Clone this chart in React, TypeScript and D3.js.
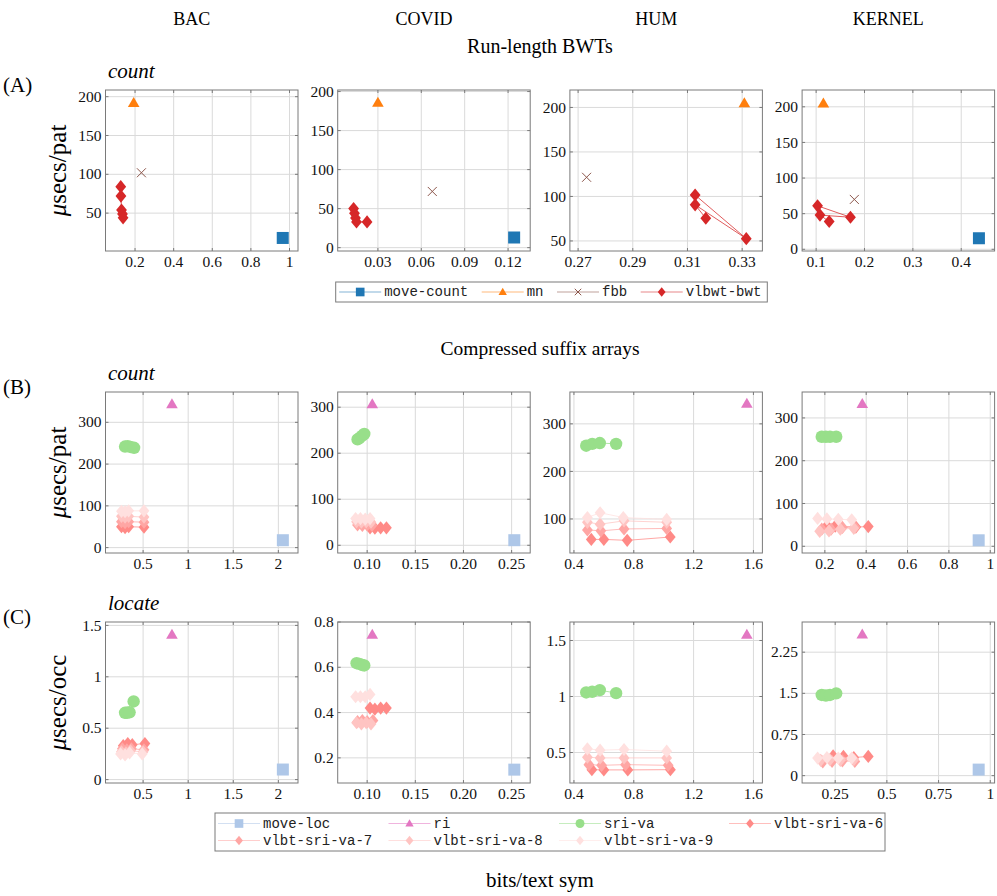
import React from 'react';
import * as d3 from 'd3';

type Pt = [number, number];

const datasets = ['BAC', 'COVID', 'HUM', 'KERNEL'];

// (A) run-length BWTs, count: [bits/text sym, usecs/pat]
const bacMoveCount: Pt[] = [[0.965, 18]];
const bacMn: Pt[] = [[0.193, 192]];
const bacFbb: Pt[] = [[0.233, 102]];
const bacVlbwt: Pt[] = [[0.126, 84], [0.127, 72], [0.13, 54], [0.135, 49], [0.138, 44]];
const covidMoveCount: Pt[] = [[0.1242, 13]];
const covidMn: Pt[] = [[0.03, 186]];
const covidFbb: Pt[] = [[0.0676, 72]];
const covidVlbwt: Pt[] = [[0.0132, 50], [0.0138, 44], [0.0145, 38], [0.0152, 33], [0.0225, 33]];
const humMn: Pt[] = [[0.3308, 205]];
const humFbb: Pt[] = [[0.2731, 121.5]];
const humVlbwt: Pt[] = [[0.3128, 101.6], [0.3315, 52.6], [0.3128, 90.6], [0.3167, 75.5]];
const kernelMoveCount: Pt[] = [[0.4366, 15.5]];
const kernelMn: Pt[] = [[0.115, 205]];
const kernelFbb: Pt[] = [[0.179, 70]];
const kernelVlbwt: Pt[] = [[0.103, 61], [0.171, 45], [0.108, 48], [0.127, 39]];

// (B) compressed suffix arrays, count
const bacCountMoveLoc: Pt[] = [[2.05, 17.7]];
const bacCountRi: Pt[] = [[0.82, 344]];
const bacCountSriVa: Pt[] = [[0.3, 242], [0.33, 243], [0.36, 241], [0.4, 239]];
const bacCountV6: Pt[] = [[0.26, 50], [0.3, 48], [0.34, 50], [0.51, 49]];
const bacCountV7: Pt[] = [[0.26, 62], [0.3, 60], [0.34, 62], [0.51, 61]];
const bacCountV8: Pt[] = [[0.26, 75], [0.3, 73], [0.34, 75], [0.51, 73]];
const bacCountV9: Pt[] = [[0.26, 87], [0.3, 86], [0.34, 88], [0.51, 88]];
const covidCountMoveLoc: Pt[] = [[0.2528, 11]];
const covidCountRi: Pt[] = [[0.1053, 307]];
const covidCountSriVa: Pt[] = [[0.09, 230], [0.092, 233], [0.095, 238], [0.097, 242]];
const covidCountV6: Pt[] = [[0.103, 38], [0.108, 37], [0.114, 38], [0.12, 38]];
const covidCountV7: Pt[] = [[0.09, 44], [0.095, 43], [0.1, 44], [0.105, 43]];
const covidCountV8: Pt[] = [[0.089, 51], [0.094, 50], [0.099, 51], [0.104, 50]];
const covidCountV9: Pt[] = [[0.088, 58], [0.093, 58], [0.098, 57], [0.103, 58]];
const humCountRi: Pt[] = [[1.556, 342.5]];
const humCountSriVa: Pt[] = [[0.482, 254], [0.522, 258], [0.573, 259.6], [0.682, 258]];
const humCountV6: Pt[] = [[0.516, 57], [0.6, 57], [0.756, 55], [1.044, 62]];
const humCountV7: Pt[] = [[0.49, 77], [0.58, 75], [0.735, 79], [1.02, 80]];
const humCountV8: Pt[] = [[0.49, 93], [0.575, 89], [0.735, 96], [1.02, 93]];
const humCountV9: Pt[] = [[0.49, 103], [0.575, 113], [0.73, 103], [1.02, 99]];
const kernelCountMoveLoc: Pt[] = [[0.944, 14]];
const kernelCountRi: Pt[] = [[0.381, 333]];
const kernelCountSriVa: Pt[] = [[0.185, 256], [0.205, 256], [0.225, 256], [0.255, 256]];
const kernelCountV6: Pt[] = [[0.21, 48], [0.25, 47], [0.35, 45], [0.41, 46]];
const kernelCountV7: Pt[] = [[0.185, 40], [0.23, 40], [0.285, 44], [0.345, 45]];
const kernelCountV8: Pt[] = [[0.175, 35], [0.22, 36], [0.275, 40], [0.34, 42]];
const kernelCountV9: Pt[] = [[0.165, 65], [0.21, 64], [0.265, 63], [0.33, 62]];

// (C) compressed suffix arrays, locate: [bits/text sym, usecs/occ]
const bacLocateMoveLoc: Pt[] = [[2.05, 0.098]];
const bacLocateRi: Pt[] = [[0.82, 1.412]];
const bacLocateSriVa: Pt[] = [[0.3, 0.65], [0.32, 0.65], [0.35, 0.655], [0.395, 0.76]];
const bacLocateV6: Pt[] = [[0.28, 0.33], [0.33, 0.35], [0.38, 0.34], [0.52, 0.35]];
const bacLocateV7: Pt[] = [[0.27, 0.3], [0.32, 0.29], [0.37, 0.3], [0.51, 0.29]];
const bacLocateV8: Pt[] = [[0.26, 0.27], [0.31, 0.26], [0.36, 0.28], [0.5, 0.27]];
const bacLocateV9: Pt[] = [[0.25, 0.25], [0.3, 0.24], [0.35, 0.26], [0.49, 0.25]];
const covidLocateMoveLoc: Pt[] = [[0.2528, 0.148]];
const covidLocateRi: Pt[] = [[0.1053, 0.745]];
const covidLocateSriVa: Pt[] = [[0.089, 0.618], [0.092, 0.615], [0.095, 0.61], [0.097, 0.608]];
const covidLocateV6: Pt[] = [[0.103, 0.42], [0.108, 0.415], [0.114, 0.42], [0.12, 0.42]];
const covidLocateV7: Pt[] = [[0.09, 0.36], [0.095, 0.365], [0.1, 0.36], [0.106, 0.365]];
const covidLocateV8: Pt[] = [[0.089, 0.355], [0.094, 0.35], [0.099, 0.355], [0.104, 0.35]];
const covidLocateV9: Pt[] = [[0.088, 0.47], [0.093, 0.47], [0.098, 0.47], [0.103, 0.48]];
const humLocateRi: Pt[] = [[1.556, 1.554]];
const humLocateSriVa: Pt[] = [[0.482, 1.036], [0.522, 1.042], [0.573, 1.057], [0.682, 1.03]];
const humLocateV6: Pt[] = [[0.52, 0.347], [0.6, 0.345], [0.76, 0.345], [1.045, 0.347]];
const humLocateV7: Pt[] = [[0.5, 0.392], [0.585, 0.386], [0.745, 0.392], [1.03, 0.386]];
const humLocateV8: Pt[] = [[0.49, 0.458], [0.575, 0.452], [0.735, 0.452], [1.02, 0.452]];
const humLocateV9: Pt[] = [[0.49, 0.533], [0.575, 0.521], [0.735, 0.527], [1.02, 0.512]];
const kernelLocateMoveLoc: Pt[] = [[0.944, 0.11]];
const kernelLocateRi: Pt[] = [[0.381, 2.574]];
const kernelLocateSriVa: Pt[] = [[0.185, 1.47], [0.205, 1.46], [0.225, 1.47], [0.255, 1.5]];
const kernelLocateV6: Pt[] = [[0.24, 0.36], [0.29, 0.35], [0.34, 0.33], [0.41, 0.35]];
const kernelLocateV7: Pt[] = [[0.19, 0.25], [0.235, 0.26], [0.285, 0.27], [0.345, 0.26]];
const kernelLocateV8: Pt[] = [[0.18, 0.28], [0.225, 0.29], [0.275, 0.28], [0.34, 0.29]];
const kernelLocateV9: Pt[] = [[0.165, 0.32], [0.21, 0.33], [0.265, 0.32], [0.33, 0.32]];

const legendA = ['move-count', 'mn', 'fbb', 'vlbwt-bwt'];
const legendBC = ['move-loc', 'ri', 'sri-va', 'vlbt-sri-va-6', 'vlbt-sri-va-7', 'vlbt-sri-va-8', 'vlbt-sri-va-9'];

const styles: Record<string, { color: string; shape: string }> = {
  'move-count': { color: '#1f77b4', shape: 'square' },
  'mn': { color: '#ff7f0e', shape: 'triangle' },
  'fbb': { color: '#8c564b', shape: 'cross' },
  'vlbwt-bwt': { color: '#d62728', shape: 'diamond' },
  'move-loc': { color: '#aec7e8', shape: 'square' },
  'ri': { color: '#e377c2', shape: 'triangle' },
  'sri-va': { color: '#98df8a', shape: 'circle' },
  'vlbt-sri-va-6': { color: '#ff8a87', shape: 'diamond' },
  'vlbt-sri-va-7': { color: '#ffa6a4', shape: 'diamond' },
  'vlbt-sri-va-8': { color: '#ffc4c2', shape: 'diamond' },
  'vlbt-sri-va-9': { color: '#ffe0df', shape: 'diamond' },
};

type Panel = {
  xDomain: [number, number];
  yDomain: [number, number];
  xTicks: number[];
  yTicks: number[];
  xFmt?: string;
  series: [string, Pt[]][];
};

const rows: Panel[][] = [
  [
    { xDomain: [0.047, 1.044], yDomain: [1.2, 208.6], xTicks: [0.2, 0.4, 0.6, 0.8, 1], yTicks: [50, 100, 150, 200],
      series: [['move-count', bacMoveCount], ['mn', bacMn], ['fbb', bacFbb], ['vlbwt-bwt', bacVlbwt]] },
    { xDomain: [0.0022, 0.1353], yDomain: [-4.3, 202], xTicks: [0.03, 0.06, 0.09, 0.12], yTicks: [0, 50, 100, 150, 200],
      series: [['move-count', covidMoveCount], ['mn', covidMn], ['fbb', covidFbb], ['vlbwt-bwt', covidVlbwt]] },
    { xDomain: [0.267, 0.3374], yDomain: [38.7, 219.6], xTicks: [0.27, 0.29, 0.31, 0.33], yTicks: [50, 100, 150, 200],
      series: [['mn', humMn], ['fbb', humFbb], ['vlbwt-bwt', humVlbwt]] },
    { xDomain: [0.071, 0.469], yDomain: [-2.4, 223.6], xTicks: [0.1, 0.2, 0.3, 0.4], yTicks: [0, 50, 100, 150, 200],
      series: [['move-count', kernelMoveCount], ['mn', kernelMn], ['fbb', kernelFbb], ['vlbwt-bwt', kernelVlbwt]] },
  ],
  [
    { xDomain: [0.083, 2.218], yDomain: [-12.9, 372.6], xTicks: [0.5, 1, 1.5, 2], yTicks: [0, 100, 200, 300],
      series: [['move-loc', bacCountMoveLoc], ['ri', bacCountRi], ['sri-va', bacCountSriVa], ['vlbt-sri-va-6', bacCountV6],
        ['vlbt-sri-va-7', bacCountV7], ['vlbt-sri-va-8', bacCountV8], ['vlbt-sri-va-9', bacCountV9]] },
    { xDomain: [0.0694, 0.2693], yDomain: [-16.8, 333], xTicks: [0.1, 0.15, 0.2, 0.25], xFmt: '.2f', yTicks: [0, 100, 200, 300],
      series: [['move-loc', covidCountMoveLoc], ['ri', covidCountRi], ['sri-va', covidCountSriVa], ['vlbt-sri-va-6', covidCountV6],
        ['vlbt-sri-va-7', covidCountV7], ['vlbt-sri-va-8', covidCountV8], ['vlbt-sri-va-9', covidCountV9]] },
    { xDomain: [0.373, 1.66], yDomain: [28.4, 367], xTicks: [0.4, 0.8, 1.2, 1.6], yTicks: [100, 200, 300],
      series: [['ri', humCountRi], ['sri-va', humCountSriVa], ['vlbt-sri-va-6', humCountV6],
        ['vlbt-sri-va-7', humCountV7], ['vlbt-sri-va-8', humCountV8], ['vlbt-sri-va-9', humCountV9]] },
    { xDomain: [0.09, 1.021], yDomain: [-15.7, 360.6], xTicks: [0.2, 0.4, 0.6, 0.8, 1], yTicks: [0, 100, 200, 300],
      series: [['move-loc', kernelCountMoveLoc], ['ri', kernelCountRi], ['sri-va', kernelCountSriVa], ['vlbt-sri-va-6', kernelCountV6],
        ['vlbt-sri-va-7', kernelCountV7], ['vlbt-sri-va-8', kernelCountV8], ['vlbt-sri-va-9', kernelCountV9]] },
  ],
  [
    { xDomain: [0.083, 2.218], yDomain: [-0.033, 1.533], xTicks: [0.5, 1, 1.5, 2], yTicks: [0, 0.5, 1, 1.5],
      series: [['move-loc', bacLocateMoveLoc], ['ri', bacLocateRi], ['sri-va', bacLocateSriVa], ['vlbt-sri-va-6', bacLocateV6],
        ['vlbt-sri-va-7', bacLocateV7], ['vlbt-sri-va-8', bacLocateV8], ['vlbt-sri-va-9', bacLocateV9]] },
    { xDomain: [0.0694, 0.2693], yDomain: [0.089, 0.8], xTicks: [0.1, 0.15, 0.2, 0.25], xFmt: '.2f', yTicks: [0.2, 0.4, 0.6, 0.8],
      series: [['move-loc', covidLocateMoveLoc], ['ri', covidLocateRi], ['sri-va', covidLocateSriVa], ['vlbt-sri-va-6', covidLocateV6],
        ['vlbt-sri-va-7', covidLocateV7], ['vlbt-sri-va-8', covidLocateV8], ['vlbt-sri-va-9', covidLocateV9]] },
    { xDomain: [0.373, 1.66], yDomain: [0.228, 1.665], xTicks: [0.4, 0.8, 1.2, 1.6], yTicks: [0.5, 1, 1.5],
      series: [['ri', humLocateRi], ['sri-va', humLocateSriVa], ['vlbt-sri-va-6', humLocateV6],
        ['vlbt-sri-va-7', humLocateV7], ['vlbt-sri-va-8', humLocateV8], ['vlbt-sri-va-9', humLocateV9]] },
    { xDomain: [0.09, 1.021], yDomain: [-0.134, 2.8], xTicks: [0.25, 0.5, 0.75, 1], yTicks: [0, 0.75, 1.5, 2.25],
      series: [['move-loc', kernelLocateMoveLoc], ['ri', kernelLocateRi], ['sri-va', kernelLocateSriVa], ['vlbt-sri-va-6', kernelLocateV6],
        ['vlbt-sri-va-7', kernelLocateV7], ['vlbt-sri-va-8', kernelLocateV8], ['vlbt-sri-va-9', kernelLocateV9]] },
  ],
];

const rowLetters = ['(A)', '(B)', '(C)'];
const rowOps = ['count', 'count', 'locate'];
const rowUnits = ['pat', 'pat', 'occ'];

const colLeft = [105.5, 337.7, 569.9, 802.1];
const panelW = 192.5;
const rowTop = [90, 392, 622];
const panelH = 161;
const serif = '"Liberation Serif", "DejaVu Serif", serif';
const mono = '"Liberation Mono", "DejaVu Sans Mono", monospace';

function marker(name: string, x: number, y: number, k: number, key: string | number) {
  const { color, shape } = styles[name];
  if (shape === 'square')
    return <rect key={key} x={x - 6 * k} y={y - 6 * k} width={12 * k} height={12 * k} fill={color} />;
  if (shape === 'triangle')
    return <path key={key} d={`M${x},${y - 5.8 * k}L${x + 5.8 * k},${y + 4.2 * k}L${x - 5.8 * k},${y + 4.2 * k}Z`} fill={color} />;
  if (shape === 'cross') {
    const s = 4.5 * k;
    return <path key={key} d={`M${x - s},${y - s}L${x + s},${y + s}M${x - s},${y + s}L${x + s},${y - s}`} stroke={color} strokeWidth={1} fill="none" />;
  }
  if (shape === 'circle') return <circle key={key} cx={x} cy={y} r={6.2 * k} fill={color} />;
  return <path key={key} d={`M${x},${y - 6.6 * k}L${x + 5.4 * k},${y}L${x},${y + 6.6 * k}L${x - 5.4 * k},${y}Z`} fill={color} />;
}

function PanelView({ p, x0, y0 }: { p: Panel; x0: number; y0: number }) {
  const x = d3.scaleLinear().domain(p.xDomain).range([x0, x0 + panelW]);
  const y = d3.scaleLinear().domain(p.yDomain).range([y0 + panelH, y0]);
  const fmt = p.xFmt ? d3.format(p.xFmt) : (v: number) => String(v);
  const line = d3.line<Pt>().x(d => x(d[0])).y(d => y(d[1]));
  const grid = '#dadada';
  const frame = '#7a7a7a';
  return (
    <g>
      {p.xTicks.map(t => (
        <line key={'gx' + t} x1={x(t)} x2={x(t)} y1={y0} y2={y0 + panelH} stroke={grid} />
      ))}
      {p.yTicks.map(t => (
        <line key={'gy' + t} x1={x0} x2={x0 + panelW} y1={y(t)} y2={y(t)} stroke={grid} />
      ))}
      {p.xTicks.map(t => (
        <g key={'tx' + t}>
          <line x1={x(t)} x2={x(t)} y1={y0 + panelH} y2={y0 + panelH - 3} stroke={frame} />
          <line x1={x(t)} x2={x(t)} y1={y0} y2={y0 + 3} stroke={frame} />
          <text x={x(t)} y={y0 + panelH + 16} textAnchor="middle" fontSize={15.5} fontFamily={serif} fill="#111">{fmt(t)}</text>
        </g>
      ))}
      {p.yTicks.map(t => (
        <g key={'ty' + t}>
          <line x1={x0} x2={x0 + 3} y1={y(t)} y2={y(t)} stroke={frame} />
          <line x1={x0 + panelW} x2={x0 + panelW - 3} y1={y(t)} y2={y(t)} stroke={frame} />
          <text x={x0 - 4} y={y(t)} dy="0.33em" textAnchor="end" fontSize={15.5} fontFamily={serif} fill="#111">{String(t)}</text>
        </g>
      ))}
      <rect x={x0} y={y0} width={panelW} height={panelH} fill="none" stroke={frame} strokeWidth={1} />
      {p.series.map(([name, pts]) => (
        <g key={name}>
          {pts.length > 1 && (
            <path d={line(pts) || ''} fill="none" stroke={styles[name].color} strokeOpacity={0.75} strokeWidth={1} />
          )}
          {pts.map((d, i) => marker(name, x(d[0]), y(d[1]), 1, i))}
        </g>
      ))}
    </g>
  );
}

function LegendItem({ name, x, y }: { name: string; x: number; y: number }) {
  return (
    <g>
      <line x1={x} x2={x + 42} y1={y} y2={y} stroke={styles[name].color} strokeOpacity={0.55} strokeWidth={1.2} />
      {marker(name, x + 21, y, 0.72, 'm')}
      <text x={x + 45} y={y} dy="0.32em" fontSize={14} fontFamily={mono} fill="#222">{name}</text>
    </g>
  );
}

export default function App() {
  const charW = 8.4;
  // legend A: items laid out one after another
  const legAX0 = 335.7;
  const legAPos: number[] = [];
  let cx = legAX0 + 3.5;
  legendA.forEach(n => {
    legAPos.push(cx);
    cx += 45 + n.length * charW + 13.5;
  });
  const legAW = cx - 13.5 + 6 - legAX0;
  const legCCols = [218, 388.5, 559, 729];
  return (
    <svg width={997} height={896} style={{ position: 'absolute', left: 0, top: 0, background: '#fff' }}>
      {datasets.map((d, i) => (
        <text key={d} x={colLeft[i] + panelW / 2 - 10} y={25} textAnchor="middle" fontSize={18} fontFamily={serif}>{d}</text>
      ))}
      <text x={540} y={53} textAnchor="middle" fontSize={20} fontFamily={serif}>Run-length BWTs</text>
      <text x={540} y={355} textAnchor="middle" fontSize={19.5} fontFamily={serif}>Compressed suffix arrays</text>
      <text x={540} y={887} textAnchor="middle" fontSize={21} fontFamily={serif}>bits/text sym</text>
      {rows.map((row, r) => (
        <g key={r}>
          <text x={3} y={rowTop[r] + 2} fontSize={21} fontFamily={serif}>{rowLetters[r]}</text>
          <text x={108} y={rowTop[r] - 12} fontSize={21} fontStyle="italic" fontFamily={serif}>{rowOps[r]}</text>
          <text transform={`translate(66,${rowTop[r] + panelH / 2}) rotate(-90)`} textAnchor="middle" fontSize={25} fontFamily={serif}>
            <tspan fontStyle="italic">μ</tspan>secs/{rowUnits[r]}
          </text>
          {row.map((p, c) => (
            <PanelView key={c} p={p} x0={colLeft[c]} y0={rowTop[r]} />
          ))}
        </g>
      ))}
      <rect x={legAX0} y={282} width={legAW} height={20} fill="#fff" stroke="#7a7a7a" />
      {legendA.map((n, i) => (
        <LegendItem key={n} name={n} x={legAPos[i]} y={292} />
      ))}
      <rect x={215} y={813} width={670} height={38} fill="#fff" stroke="#7a7a7a" />
      {legendBC.map((n, i) => (
        <LegendItem key={n} name={n} x={legCCols[i % 4]} y={i < 4 ? 823.5 : 840.5} />
      ))}
    </svg>
  );
}
